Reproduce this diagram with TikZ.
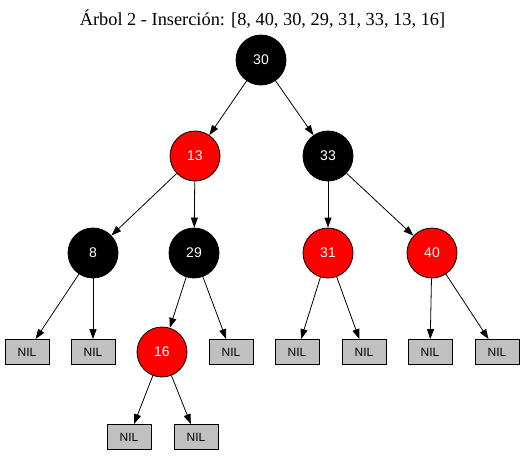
\documentclass[tikz,border=0pt]{standalone}
\usepackage{fontspec}
\setmainfont{Liberation Serif}
\newfontfamily\nodefont{Liberation Sans}
\usetikzlibrary{arrows.meta}
\begin{document}
\begin{tikzpicture}[x=1pt,y=-1pt,
  rbnode/.style={circle,draw=black,line width=0.8pt,minimum size=50pt,inner sep=0pt,text=white,font=\nodefont\fontsize{14}{16}\selectfont},
  blk/.style={rbnode,fill=black},
  red/.style={rbnode,fill=red},
  nil/.style={rectangle,draw=black,line width=0.8pt,fill={rgb,255:red,192;green,192;blue,192},minimum width=44pt,minimum height=25pt,inner sep=0pt,font=\nodefont\fontsize{12}{14}\selectfont},
  edge/.style={draw=black,line width=0.8pt,-{Triangle[length=10pt,width=7pt]}}
]
\useasboundingbox (0,0) rectangle (525,456);
\node[font=\fontsize{18.35}{20}\selectfont] (title) at (262.5,19) {Árbol 2 - Inserción: [8, 40, 30, 29, 31, 33, 13, 16]};
\node[blk] (n30) at (261,60) {30};
\node[red] (n13) at (195,156) {13};
\node[blk] (n33) at (328,156) {33};
\node[blk] (n8) at (93,253) {8};
\node[blk] (n29) at (194,253) {29};
\node[red] (n31) at (328,253) {31};
\node[red] (n40) at (432,253) {40};
\node[nil] (l1) at (27,352) {NIL};
\node[nil] (l2) at (93,352) {NIL};
\node[red] (n16) at (162,352) {16};
\node[nil] (l3) at (231,352) {NIL};
\node[nil] (l4) at (297,352) {NIL};
\node[nil] (l5) at (364,352) {NIL};
\node[nil] (l6) at (430,352) {NIL};
\node[nil] (l7) at (497,352) {NIL};
\node[nil] (l8) at (129,437) {NIL};
\node[nil] (l9) at (196,437) {NIL};
\draw[edge] (n30) -- (n13);
\draw[edge] (n30) -- (n33);
\draw[edge] (n13) -- (n8);
\draw[edge] (n13) -- (n29);
\draw[edge] (n33) -- (n31);
\draw[edge] (n33) -- (n40);
\draw[edge] (n8) -- (l1);
\draw[edge] (n8) -- (l2);
\draw[edge] (n29) -- (n16);
\draw[edge] (n29) -- (l3);
\draw[edge] (n31) -- (l4);
\draw[edge] (n31) -- (l5);
\draw[edge] (n40) -- (l6);
\draw[edge] (n40) -- (l7);
\draw[edge] (n16) -- (l8);
\draw[edge] (n16) -- (l9);
\end{tikzpicture}
\end{document}
